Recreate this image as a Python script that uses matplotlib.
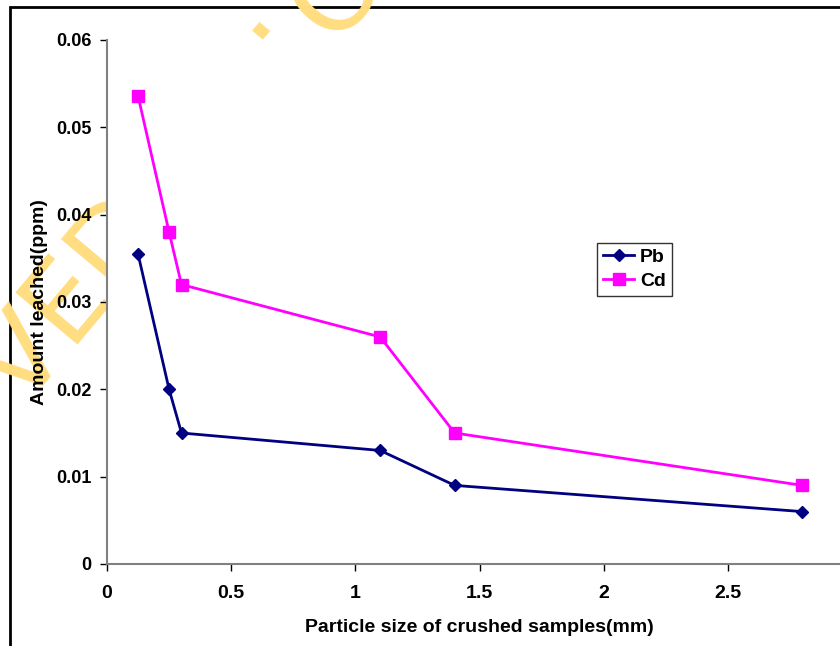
import matplotlib
matplotlib.use("Agg")
import matplotlib.pyplot as plt
from matplotlib.patches import Rectangle

# data
particle_size = [0.125, 0.25, 0.3, 1.1, 1.4, 2.8]
pb = [0.0355, 0.020, 0.015, 0.013, 0.009, 0.006]
cd = [0.0536, 0.038, 0.032, 0.026, 0.015, 0.009]
x_ticks = [0, 0.5, 1, 1.5, 2, 2.5]
x_tick_labels = ["0", "0.5", "1", "1.5", "2", "2.5"]
y_ticks = [0, 0.01, 0.02, 0.03, 0.04, 0.05, 0.06]
y_tick_labels = ["0", "0.01", "0.02", "0.03", "0.04", "0.05", "0.06"]

plt.rcParams['font.family'] = ['Liberation Sans', 'DejaVu Sans']

W, H = 840, 646
fig = plt.figure(figsize=(W / 100, H / 100), dpi=100)

# outer chart frame (cut off on the right and bottom)
fig.patches.append(Rectangle((10 / W, -0.05), 1.2, 1 - 7 / H + 0.05, transform=fig.transFigure,
                             fill=False, edgecolor='black', linewidth=2, zorder=-2))

# watermark pieces, mostly hidden behind the plot area
wm = dict(rotation=50, rotation_mode='anchor', fontsize=80, color='#FFDD80',
          zorder=-1, family='DejaVu Sans', va='baseline')
fig.text(22 / W, 1 - 410 / H, "VED", ha='left', **wm)
fig.text(262 / W, 1 - 26 / H, ".", ha='center', **wm)
fig.text(361 / W, 1 - 10 / H, "O", ha='center', **wm)

ax = fig.add_axes([107 / W, 1 - 564 / H, (852 - 107) / W, (564 - 40) / H])
ax.set_facecolor('white')

ax.plot(particle_size, pb, color='#000080', marker='D', markersize=6, linewidth=2, label='Pb')
ax.plot(particle_size, cd, color='#FF00FF', marker='s', markersize=8, linewidth=2, label='Cd')

ax.set_xlim(0, 3)
ax.set_ylim(0, 0.06)
ax.set_xticks(x_ticks)
ax.set_xticklabels(x_tick_labels, fontsize=14, fontweight='bold')
ax.set_yticks(y_ticks)
ax.set_yticklabels(y_tick_labels, fontsize=13, fontweight='bold')

for s in ['top', 'right']:
    ax.spines[s].set_visible(False)
for s in ['left', 'bottom']:
    ax.spines[s].set_color('#808080')
    ax.spines[s].set_linewidth(1.5)
ax.tick_params(axis='both', direction='out', length=5, width=1, color='black', pad=6)
ax.tick_params(axis='x', pad=10)

ax.set_xlabel("Particle size of crushed samples(mm)", fontsize=14, fontweight='bold', labelpad=12)
ax.set_ylabel("Amount leached(ppm)", fontsize=14, fontweight='bold', labelpad=6)

leg = ax.legend(loc='upper left', bbox_to_anchor=(0.658, 0.613),
                prop={'weight': 'bold', 'size': 14}, frameon=True, fancybox=False,
                edgecolor='black', handlelength=1.6, borderpad=0.3, labelspacing=0.3,
                handletextpad=0.3, borderaxespad=0)
leg.get_frame().set_linewidth(1)

fig.savefig("out.png", dpi=100)
